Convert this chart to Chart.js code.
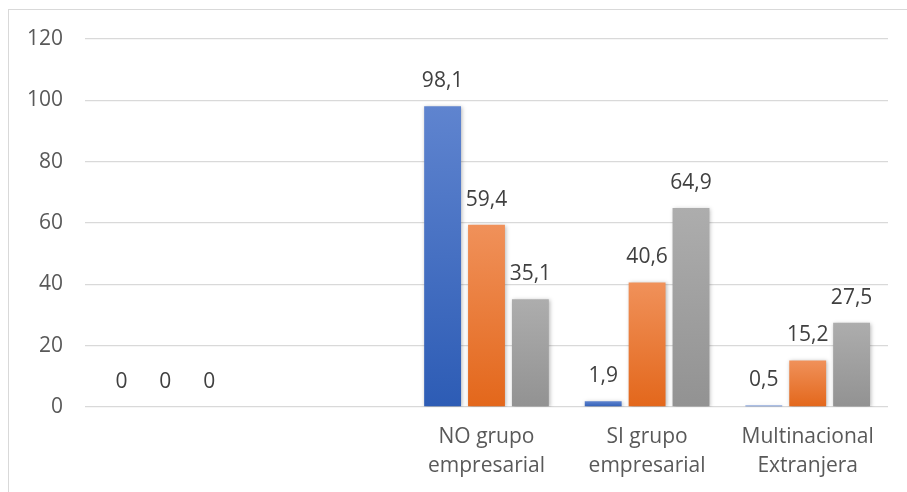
<!DOCTYPE html>
<html>
<head>
<meta charset="utf-8">
<script src="https://cdn.jsdelivr.net/npm/chart.js@4.4.1/dist/chart.umd.min.js"></script>
<style>
    html, body { margin: 0; padding: 0; background: #fff; }
    #wrap { position: relative; width: 907px; height: 492px; overflow: hidden; }
    #frame { position: absolute; left: 8px; top: 9px; width: 1000px; height: 600px; border: 1px solid #d9d9d9; box-sizing: border-box; }
    canvas { position: absolute; left: 0; top: 0; }
</style>
</head>
<body>
<div id="wrap">
    <div id="frame"></div>
    <canvas id="barChart" width="907" height="492"></canvas>
</div>
<script>
// datos
const categorias = ["", "", ["NO grupo", "empresarial"], ["SI grupo", "empresarial"], ["Multinacional", "Extranjera"]];
const serieA = [0, null, 98.1, 1.9, 0.5];
const serieB = [0, null, 59.4, 40.6, 15.2];
const serieC = [0, null, 35.1, 64.9, 27.5];
const ticksY = [0, 20, 40, 60, 80, 100, 120];

const FONT = "'Open Sans', 'Noto Sans', sans-serif";

// degradado por barra (claro arriba, oscuro abajo)
function degradado(top, bottom) {
    return function (ctx) {
        const chart = ctx.chart;
        const y = chart.scales.y;
        if (!chart.chartArea || !y || ctx.raw == null) return bottom;
        const yTop = y.getPixelForValue(ctx.raw);
        const yBot = y.getPixelForValue(0);
        if (!isFinite(yTop) || yBot - yTop < 1) return bottom;
        const g = chart.ctx.createLinearGradient(0, yTop, 0, yBot);
        g.addColorStop(0, top);
        g.addColorStop(1, bottom);
        return g;
    };
}

// etiquetas de valor con coma decimal
const etiquetas = {
    id: "etiquetas",
    afterDatasetsDraw(chart) {
        const ctx = chart.ctx;
        ctx.save();
        ctx.font = "21px " + FONT;
        ctx.fillStyle = "#404040";
        ctx.textAlign = "center";
        ctx.textBaseline = "middle";
        chart.data.datasets.forEach((ds, i) => {
            chart.getDatasetMeta(i).data.forEach((bar, j) => {
                const v = ds.data[j];
                if (v == null) return;
                ctx.fillText(String(v).replace(".", ","), bar.x, bar.y - 25);
            });
        });
        ctx.restore();
    },
};

// sombra suave en las barras
const sombra = {
    id: "sombra",
    beforeDatasetsDraw(chart) {
        const ctx = chart.ctx;
        ctx.save();
        ctx.shadowColor = "rgba(0,0,0,0.28)";
        ctx.shadowBlur = 4;
        ctx.shadowOffsetX = 1;
        ctx.shadowOffsetY = 1;
    },
    afterDatasetsDraw(chart) {
        chart.ctx.restore();
    },
};

const barCtx = document.getElementById("barChart").getContext("2d");
new Chart(barCtx, {
    type: "bar",
    data: {
        labels: categorias,
        datasets: [
            { label: "Serie 1", data: serieA, backgroundColor: degradado("#5f84cf", "#2d5cb5") },
            { label: "Serie 2", data: serieB, backgroundColor: degradado("#f0915a", "#e3671b") },
            { label: "Serie 3", data: serieC, backgroundColor: degradado("#adadad", "#929292") },
        ],
    },
    options: {
        responsive: false,
        animation: false,
        events: [],
        categoryPercentage: 0.82,
        barPercentage: 0.84,
        layout: { padding: { top: 39, right: 19, left: 0, bottom: 0 } },
        plugins: {
            legend: { display: false },
            tooltip: { enabled: false },
        },
        scales: {
            x: {
                grid: { display: false, drawTicks: false },
                border: { display: false },
                ticks: {
                    color: "#595959",
                    font: { family: FONT, size: 21, lineHeight: 1.4 },
                    padding: 15,
                    maxRotation: 0,
                    autoSkip: false,
                },
                afterFit(scale) { scale.height = 85; },
            },
            y: {
                min: 0,
                max: 120,
                afterBuildTicks(scale) { scale.ticks = ticksY.map(v => ({ value: v })); },
                grid: { color: "#d9d9d9", lineWidth: 1.3, drawTicks: false },
                border: { display: false },
                ticks: {
                    color: "#595959",
                    font: { family: FONT, size: 21 },
                    padding: 22,
                },
                afterFit(scale) { scale.width = 85; },
            },
        },
    },
    plugins: [sombra, etiquetas],
});
</script>
</body>
</html>
